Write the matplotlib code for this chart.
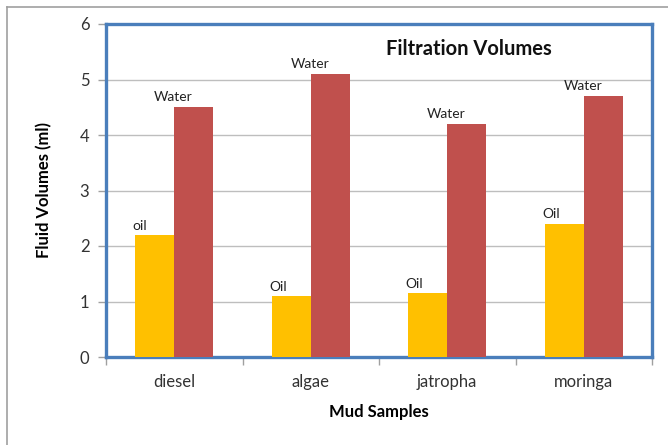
import matplotlib
matplotlib.use("Agg")
import matplotlib.pyplot as plt
import numpy as np
from matplotlib.lines import Line2D

samples = ["diesel", "algae", "jatropha", "moringa"]
oil = [2.2, 1.1, 1.15, 2.4]
water = [4.5, 5.1, 4.2, 4.7]
oil_labels = ["oil", "Oil", "Oil", "Oil"]
water_labels = ["Water", "Water", "Water", "Water"]

OIL_COLOR = "#FFC000"
WATER_COLOR = "#C0504D"
BLUE = "#4A7EBB"
GRID = "#BEBEBE"

plt.rcParams.update({"font.family": ["Lato", "DejaVu Sans"]})

fig = plt.figure(figsize=(6.68, 4.45), dpi=100)
ax = fig.add_axes([106 / 668, 1 - 357 / 445, (652 - 106) / 668, (357 - 24) / 445])

x = np.arange(len(samples))
w = 0.286
ax.bar(x - w / 2, oil, width=w, color=OIL_COLOR, zorder=3)
ax.bar(x + w / 2, water, width=w, color=WATER_COLOR, zorder=3)

for i in range(len(samples)):
    ax.text(x[i] - w - 0.02, oil[i] + 0.06, oil_labels[i], ha="left", va="bottom",
            fontsize=10, color="#222222")
    ax.text(x[i] + w / 2 - 0.15, water[i] + 0.07, water_labels[i], ha="center",
            va="bottom", fontsize=10, color="#222222")

ax.set_xlim(-0.5, 3.5)
ax.set_ylim(0, 6)
ax.set_yticks(range(7))
ax.yaxis.grid(True, color=GRID, linewidth=1.0, zorder=0)
ax.set_axisbelow(True)

ax.set_xticks(x)
ax.set_xticklabels(samples, fontsize=12, color="#333333")
ax.set_xticks(np.arange(-0.5, 4.0, 1.0), minor=True)
ax.tick_params(axis="x", which="major", length=0, pad=12)
ax.tick_params(axis="x", which="minor", length=6, color="#A0A0A0", width=1)
ax.tick_params(axis="y", length=6, color="#A0A0A0", width=1, labelsize=12,
               labelcolor="#333333", pad=6)

for s in ax.spines.values():
    s.set_color(BLUE)
    s.set_linewidth(2.4)

ax.set_xlabel("Mud Samples", fontsize=12, fontweight="bold", labelpad=10)
ax.set_ylabel("Fluid Volumes (ml)", fontsize=12, fontweight="bold", labelpad=20)
ax.text(0.665, 0.925, "Filtration Volumes", transform=ax.transAxes, ha="center",
        va="center", fontsize=14.5, fontweight="bold", color="#111111")

# outer frame (partial, as in the reference crop)
fig.add_artist(Line2D([7 / 668, 7 / 668], [0, 1 - 7 / 445], transform=fig.transFigure,
                      color="#A0A0A0", linewidth=1.2))
fig.add_artist(Line2D([7 / 668, 1], [1 - 7 / 445, 1 - 7 / 445], transform=fig.transFigure,
                      color="#A0A0A0", linewidth=1.2))

fig.savefig("out.png", dpi=100)
